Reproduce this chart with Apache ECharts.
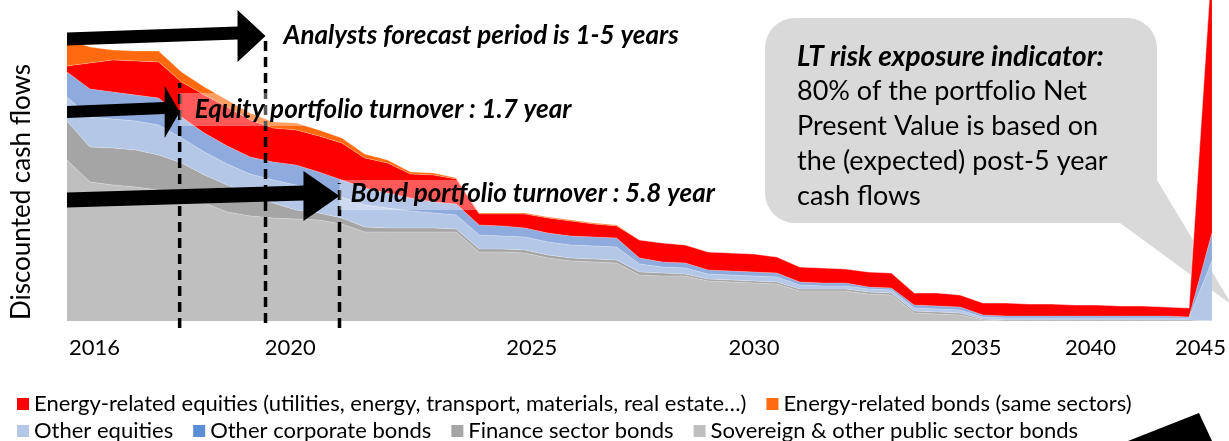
<!DOCTYPE html>
<html>
<head>
<meta charset="utf-8">
<script src="https://cdn.jsdelivr.net/npm/echarts@6/dist/echarts.min.js"></script>
<style>
  html, body { margin: 0; padding: 0; background: #fff; }
  #chart { width: 1229px; height: 441px; }
</style>
</head>
<body>
<div id="chart"></div>
<script>
// discounted cash flows per period, stacked bottom -> top (arbitrary units)
const sovereignBonds = [161, 139, 136, 134, 131, 125, 118, 109, 105, 103, 102, 101, 97, 89, 89, 89, 89, 89, 69, 69, 68, 63, 60, 59, 58, 46, 45, 45, 40, 39, 38, 37, 30, 30, 30, 27, 26, 8, 7, 6, 1, 0, 0, 0, 0, 0, 0, 0, 0, 0, 0]
const financeBonds = [39, 35, 37, 37, 35, 33, 28, 27, 21, 15, 9, 7, 6, 5, 4, 4, 4, 3, 3, 3, 3, 3, 3, 3, 3, 3, 3, 2, 2, 2, 2, 2, 2, 2, 2, 2, 2, 2, 2, 2, 1, 1, 1, 1, 1, 1, 1, 1, 1, 1, 0]
const otherEquities = [24, 30, 29, 29, 30, 25, 23, 21, 21, 23, 25, 23, 21, 22, 20, 17, 15, 14, 14, 13, 13, 13, 13, 13, 13, 8, 6, 6, 5, 5, 5, 5, 4, 3, 3, 3, 3, 3, 3, 3, 2, 2, 2, 2, 2, 2, 2, 2, 2, 2, 60]
const otherCorpBonds = [25, 28, 27, 26, 27, 21, 19, 18, 17, 18, 20, 18, 17, 17, 15, 13, 11, 11, 10, 10, 9, 9, 9, 9, 9, 6, 5, 5, 4, 4, 4, 4, 3, 3, 3, 2, 2, 3, 3, 3, 2, 2, 2, 2, 2, 2, 2, 2, 2, 1, 28]
const energyEquities = [6, 26, 32, 34, 36, 35, 38, 39, 37, 34, 35, 36, 37, 30, 30, 24, 27, 25, 11, 12, 14, 15, 15, 13, 12, 18, 19, 18, 18, 18, 18, 16, 15, 15, 14, 15, 15, 12, 13, 12, 12, 13, 12, 12, 11, 11, 10, 10, 9, 9, 273]
const energyBonds = [26, 16, 10, 10, 11, 10, 8, 7, 7, 6, 7, 6, 5, 4, 3, 2, 2, 1, 1, 1, 1, 1, 1, 1, 1, 0, 0, 0, 0, 0, 0, 0, 0, 0, 0, 0, 0, 0, 0, 0, 0, 0, 0, 0, 0, 0, 0, 0, 0, 0, 0]

// year labels and where they sit along the period axis
const yearTicks = ['2016', '2020', '2025', '2030', '2035', '2040', '2045']
const yearTickPos = [1.2, 9.75, 20.3, 30, 39.7, 44.7, 49.5]

// dashed markers (equity turnover, analysts horizon, bond turnover): position and vertical extent
const markerPos = [4.92, 8.67, 11.9]
const markerFrom = [-7, -2, -7]
const markerTo = [238, 284, 138]

const names = {
  er: 'Energy-related equities (utilities, energy, transport, materials, real estate…)',
  eb: 'Energy-related bonds (same sectors)',
  oe: 'Other equities',
  ocb: 'Other corporate bonds',
  fin: 'Finance sector bonds',
  sov: 'Sovereign & other public sector bonds',
}

const FONT = 'Lato, "Open Sans", sans-serif'

const makeArea = (name, data, color) => ({
  name,
  type: 'line',
  stack: 'cf',
  data,
  xAxisIndex: 0,
  yAxisIndex: 0,
  symbol: 'none',
  showSymbol: false,
  lineStyle: { width: 0.6, color: 'rgba(255,255,255,0.45)' },
  areaStyle: { color, opacity: 1 },
  itemStyle: { color },
  emphasis: { disabled: true },
})

const makeMarker = (i) => ({
  type: 'line',
  xAxisIndex: 1,
  yAxisIndex: 0,
  data: [[markerPos[i], markerFrom[i]], [markerPos[i], markerTo[i]]],
  symbol: 'none',
  clip: false,
  silent: true,
  z: 5,
  lineStyle: { color: '#000', width: 3.5, type: [10, 6] },
  emphasis: { disabled: true },
})

const chart = echarts.init(document.getElementById('chart'))

chart.setOption({
  animation: false,
  backgroundColor: '#fff',
  grid: { left: 67, right: 14, top: 0, bottom: 120, containLabel: false },
  xAxis: [
    { type: 'category', boundaryGap: false, show: false },
    {
      type: 'value', min: 0, max: 50, position: 'bottom',
      axisLine: { show: false }, axisTick: { show: false }, splitLine: { show: false },
      axisLabel: {
        customValues: yearTickPos,
        formatter: (v) => {
          let best = 0
          yearTickPos.forEach((p, i) => { if (Math.abs(p - v) < Math.abs(yearTickPos[best] - v)) best = i })
          return yearTicks[best]
        },
        margin: 16, fontSize: 22, color: '#000', fontFamily: FONT,
      },
    },
  ],
  yAxis: { type: 'value', min: 0, max: 321, show: false },
  legend: [
    {
      left: 12, top: 388, icon: 'rect', itemWidth: 12, itemHeight: 12, itemGap: 20,
      textStyle: { fontSize: 22, color: '#000', fontFamily: FONT },
      data: [names.er, names.eb],
      selectedMode: false,
    },
    {
      left: 12, top: 415, icon: 'rect', itemWidth: 12, itemHeight: 12, itemGap: 20,
      textStyle: { fontSize: 22, color: '#000', fontFamily: FONT },
      data: [names.oe, { name: names.ocb, itemStyle: { color: '#5B8ED6' } }, names.fin, names.sov],
      selectedMode: false,
    },
  ],
  series: [
    makeArea(names.sov, sovereignBonds, '#BFBFBF'),
    makeArea(names.fin, financeBonds, '#A5A5A5'),
    makeArea(names.oe, otherEquities, '#B4C7E7'),
    makeArea(names.ocb, otherCorpBonds, '#8FAADC'),
    makeArea(names.er, energyEquities, '#FF0000'),
    makeArea(names.eb, energyBonds, '#FF6A10'),
    makeMarker(0),
    makeMarker(1),
    makeMarker(2),
  ],
})

// annotations (arrows, captions, callout) placed relative to the marker lines
const px = (v) => chart.convertToPixel({ xAxisIndex: 1 }, v)
const x0 = px(0)

const arrow = (y0, yBase, xTip, yTip, shaft, headLen, headHalf) => {
  const xb = xTip - headLen
  return {
    type: 'polygon', z: 100, silent: true,
    shape: { points: [[x0, y0 - shaft], [xb, yBase - shaft], [xb, yTip - headHalf], [xTip, yTip], [xb, yTip + headHalf], [xb, yBase + shaft], [x0, y0 + shaft]] },
    style: { fill: '#000' },
  }
}

const caption = (text, x, y) => ({
  type: 'text', z: 101, silent: true, x, y,
  style: { text, font: 'italic bold 26px ' + FONT, fill: '#000', textVerticalAlign: 'middle' },
})

const eqX = px(markerPos[0])
const anX = px(markerPos[1])
const bdX = px(markerPos[2])

chart.setOption({
  graphic: [
    // callout bubble
    { type: 'rect', z: 1, silent: true, shape: { x: 765, y: 18, width: 392, height: 205, r: 30 }, style: { fill: '#D9D9D9' } },
    { type: 'polygon', z: 1, silent: true, shape: { points: [[1157, 180], [1232, 305], [1120, 223]] }, style: { fill: '#D9D9D9' } },
    {
      type: 'text', z: 101, silent: true, x: 797, y: 39,
      style: {
        text: '{b|LT risk exposure indicator:}\n80% of the portfolio Net\nPresent Value is based on\nthe (expected) post-5 year\ncash flows',
        font: '27px ' + FONT, fill: '#000', lineHeight: 35, textVerticalAlign: 'top',
        rich: { b: { font: 'italic bold 28px ' + FONT, fill: '#000', lineHeight: 35 } },
      },
    },
    // translucent boxes behind the captions
    { type: 'rect', z: 99, silent: true, shape: { x: eqX, y: 93, width: 412, height: 33 }, style: { fill: 'rgba(255,255,255,0.35)' } },
    { type: 'rect', z: 99, silent: true, shape: { x: bdX, y: 180, width: 392, height: 30 }, style: { fill: 'rgba(255,255,255,0.35)' } },
    arrow(39, 33, anX, 36, 6.5, 28, 26),
    arrow(112, 108, eqX, 112, 6, 15, 26),
    arrow(200, 193, bdX, 196, 7.5, 36, 25),
    caption('Analysts forecast period is 1-5 years', anX + 18, 36),
    caption('Equity portfolio turnover : 1.7 year', eqX + 15, 110),
    caption('Bond portfolio turnover : 5.8 year', bdX + 11, 194),
    // y axis title
    {
      type: 'text', z: 101, silent: true, x: 22, y: 192, rotation: Math.PI / 2,
      style: { text: 'Discounted cash flows', font: '26px ' + FONT, fill: '#000', textAlign: 'center', textVerticalAlign: 'middle' },
    },
    // cut-off shape at the bottom right corner
    { type: 'polygon', z: 100, silent: true, shape: { points: [[1128, 441], [1199, 413], [1212, 441]] }, style: { fill: '#000' } },
  ],
})
</script>
</body>
</html>
